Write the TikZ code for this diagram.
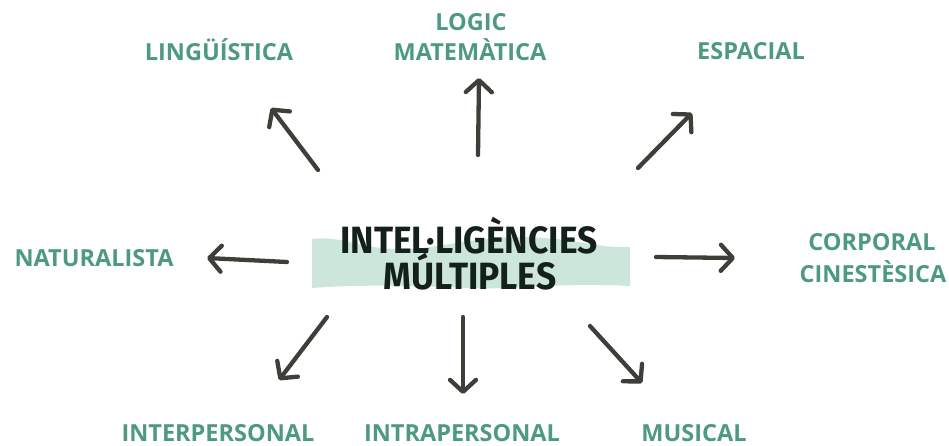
\documentclass[tikz,border=0pt]{standalone}
\usepackage{fontspec}
\setmainfont{Open Sans}
\newfontfamily\titlefont{Fira Sans}[FakeStretch=0.93]
\usetikzlibrary{arrows.meta}
\definecolor{lblgreen}{HTML}{4E9A7E}
\definecolor{bandgreen}{HTML}{CDE6DB}
\definecolor{arrowgray}{HTML}{3E3F38}
\definecolor{titleink}{HTML}{13211A}
\tikzset{
  lbl/.style={font=\fontsize{23.5}{26}\selectfont\bfseries, text=lblgreen, anchor=base, inner sep=0pt, text depth=0pt},
  ttl/.style={font=\titlefont\fontsize{38}{42}\selectfont\bfseries, text=titleink, anchor=base, inner sep=0pt},
  arr/.style={draw=arrowgray, line width=4.3pt, line cap=round, line join=round,
    -{Straight Barb[length=12pt,width=26pt,round]}}
}
\begin{document}
\begin{tikzpicture}[x=1pt,y=-1pt]
\useasboundingbox (0,0) rectangle (949,445);
% band
\fill[bandgreen] (312,239) .. controls (340,235) and (360,249) .. (400,249)
  .. controls (440,249) and (470,237) .. (520,237)
  .. controls (570,237) and (600,249) .. (630,247)
  -- (630,286) .. controls (560,282) and (520,290) .. (470,288)
  .. controls (420,286) and (360,284) .. (312,288) -- cycle;
% title
\node[ttl] (t1) at (469,253) {INTEL·LIGÈNCIES};
\node[ttl] (t2) at (470,289) {MÚLTIPLES};
% labels
\node[lbl] (ling) at (219,60) {LINGÜÍSTICA};
\node[lbl] (log1) at (471,30) {LOGIC};
\node[lbl] (log2) at (470,60) {MATEMÀTICA};
\node[lbl] (esp) at (751,59) {ESPACIAL};
\node[lbl] (cor1) at (872,250) {CORPORAL};
\node[lbl] (cor2) at (873,282) {CINESTÈSICA};
\node[lbl] (nat) at (94,266) {NATURALISTA};
\node[lbl] (inter) at (218,441) {INTERPERSONAL};
\node[lbl] (intra) at (462,441) {INTRAPERSONAL};
\node[lbl] (mus) at (694,441) {MUSICAL};
% arrow endpoints
\coordinate (a1s) at (318,170); \coordinate (a1e) at (271,108);
\coordinate (a2s) at (478,155); \coordinate (a2e) at (479,78);
\coordinate (a3s) at (638,168); \coordinate (a3e) at (692,113);
\coordinate (a4s) at (656,257); \coordinate (a4e) at (735,258);
\coordinate (a5s) at (287,262); \coordinate (a5e) at (207,258);
\coordinate (a6s) at (327,317); \coordinate (a6e) at (279,380);
\coordinate (a7s) at (463,317); \coordinate (a7e) at (463,394);
\coordinate (a8s) at (590,326); \coordinate (a8e) at (642,383);
\foreach \i in {1,...,8} \draw[arr] (a\i s) -- (a\i e);
\end{tikzpicture}
\end{document}
